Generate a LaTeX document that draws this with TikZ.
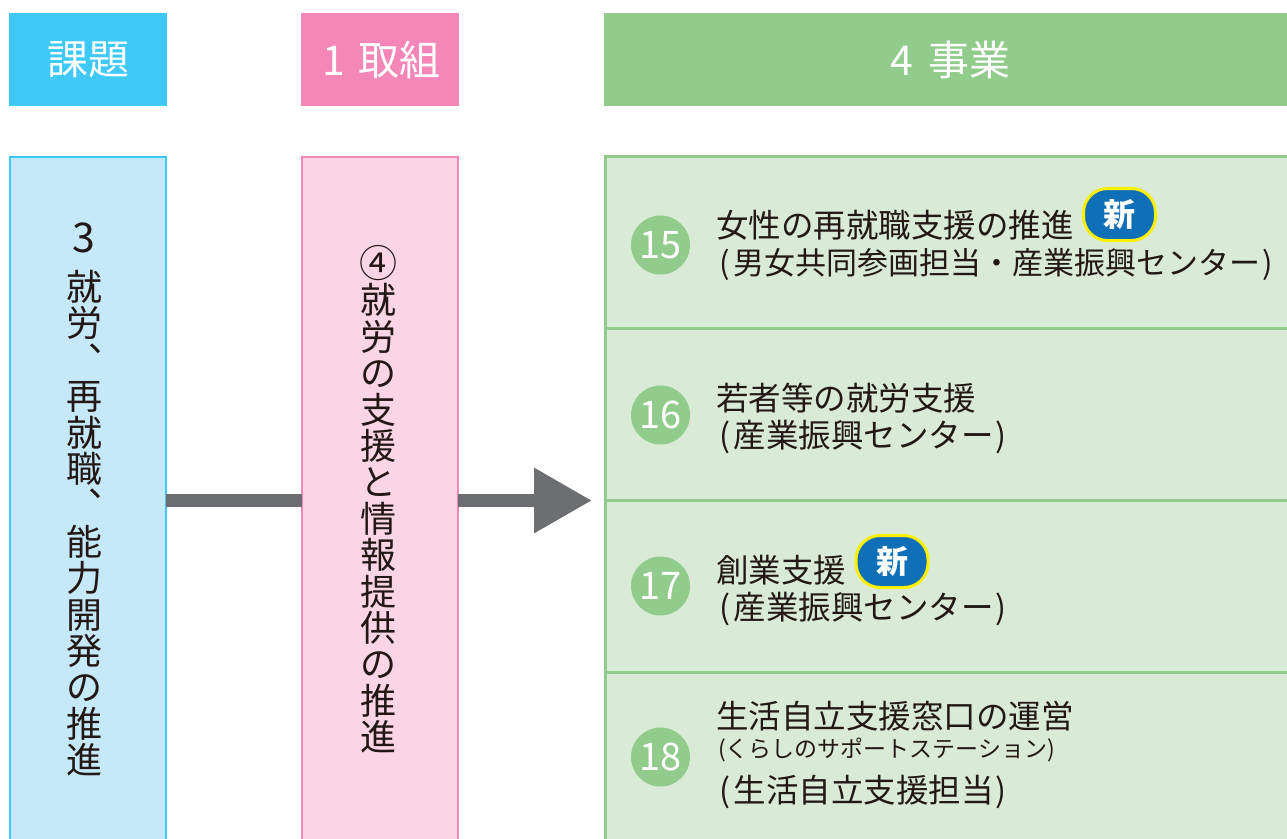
\documentclass[tikz,border=0pt]{standalone}
\usepackage{fontspec}
\usepackage{xcolor}
\usetikzlibrary{positioning, arrows.meta}
\setmainfont{Noto Sans CJK JP}
\newfontfamily\vertfont[RawFeature=+vert]{Noto Sans CJK JP}
\definecolor{inkdark}{HTML}{231815}
\definecolor{headblue}{HTML}{3FC9F9}
\definecolor{headpink}{HTML}{F487B7}
\definecolor{headgreen}{HTML}{92CC8C}
\definecolor{bodyblue}{HTML}{C6E9FA}
\definecolor{bodypink}{HTML}{F9D5E6}
\definecolor{bodygreen}{HTML}{D9EBD6}
\definecolor{arrowgray}{HTML}{6D6E71}
\definecolor{badgeblue}{HTML}{0F70B7}
\definecolor{badgeyellow}{HTML}{FFF000}
\newcommand{\lp}{(\kern4pt}
\newcommand{\rp}{\kern2pt)}
\tikzset{
every node/.style={outer sep=0pt, text=inkdark}, % no gap around any node
headbox/.style={minimum height=93pt, text=white, font=\fontsize{41}{41}\selectfont}, % the coloured titles
bodybox/.style={line width=2.5pt, anchor=north, minimum width=156pt, minimum height=690pt}, % the tall columns
columntext/.style={align=center, anchor=north, font=\fontsize{36}{36.4}\selectfont}, % one character per line
rowbox/.style={draw=headgreen, fill=bodygreen, line width=3pt, minimum width=686pt, minimum height=172pt}, % one row of the right column
numdot/.style={circle, fill=headgreen, minimum size=59pt, inner sep=0pt, text=white, font=\fontsize{38}{38}\selectfont}, % row number
rowtext/.style={anchor=west, inner sep=0pt, font=\fontsize{32.5}{37}\selectfont}, % row label
newbadge/.style={rectangle, rounded corners=24pt, draw=badgeyellow, fill=badgeblue, line width=3pt, minimum width=72pt, minimum height=52pt, inner sep=0pt, text=white, font=\fontsize{32}{32}\selectfont\bfseries}, % the new mark
linkline/.style={draw=arrowgray, line width=13pt}, % plain part of the arrow
}

\begin{document}
\begin{tikzpicture}[x=1pt, y=-1pt]
        \useasboundingbox (0,0) rectangle (1287,838);

        % titles
        \node[headbox, fill=headblue, minimum width=158pt] (headissue) at (88,59.5) {課題};
        \node[headbox, fill=headpink, minimum width=158pt] (headaction) at (380,59.5) {\kern3pt 1\kern4pt{} 取組};
        \node[headbox, fill=headgreen, minimum width=683pt] (headwork) at (945.5,59.5) {\kern10pt 4\kern6pt{} 事業};

        % columns
        \node[bodybox, draw=headblue, fill=bodyblue] (issue) at (88,157) {};
        \node[bodybox, draw=headpink, fill=bodypink] (action) at (380,157) {};
        \node[columntext] (issuetext) at (84,219) {{\fontsize{41}{36.4}\selectfont 3}\\[12pt]就\\労\\\vertfont 、\\再\\就\\職\\\vertfont 、\\能\\力\\開\\発\\の\\推\\進};
        \node[columntext] (actiontext) at (378,242) {{\fontsize{38}{36.4}\selectfont ④}\\就\\労\\の\\支\\援\\と\\情\\報\\提\\供\\の\\推\\進};

        % rows
        \node[rowbox, anchor=north west] (row15) at (605,156.5) {};
        \node[rowbox, below=0pt of row15] (row16) {};
        \node[rowbox, below=0pt of row16] (row17) {};
        \node[rowbox, below=0pt of row17] (row18) {};

        \node[numdot] (num15) at (660.5,245) {15};
        \node[numdot] (num16) at (660.5,415) {16};
        \node[numdot] (num17) at (660.5,586) {17};
        \node[numdot] (num18) at (660.5,757) {18};

        \node[rowtext] (text15a) at (716,225) {女性の再就職支援の推進};
        \node[rowtext, font=\fontsize{31}{37}\selectfont] (text15b) at (719,264) {\lp 男女共同参画担当・産業振興センター\rp};
        \node[newbadge] (new15) at (1119.5,214.5) {新};
        \node[rowtext] (text16a) at (716,398) {若者等の就労支援};
        \node[rowtext] (text16b) at (719,437) {\lp 産業振興センター\rp};
        \node[rowtext] (text17a) at (716,570) {創業支援};
        \node[rowtext] (text17b) at (719,609) {\lp 産業振興センター\rp};
        \node[newbadge] (new17) at (892,561.5) {新};
        \node[rowtext] (text18a) at (716,716) {生活自立支援窓口の運営};
        \node[rowtext, font=\fontsize{23}{24}\selectfont] (text18b) at (718,750) {(くらしのサポートステーション)};
        \node[rowtext] (text18c) at (719,792) {\lp 生活自立支援担当\rp};

        % arrow
        \coordinate (tip) at (592,500.5);
        \draw[linkline] (issue.east |- tip) -- (action.west |- tip);
        \draw[linkline, -{Triangle[length=58pt, width=62pt]}] (action.east |- tip) -- (tip);
\end{tikzpicture}
\end{document}
